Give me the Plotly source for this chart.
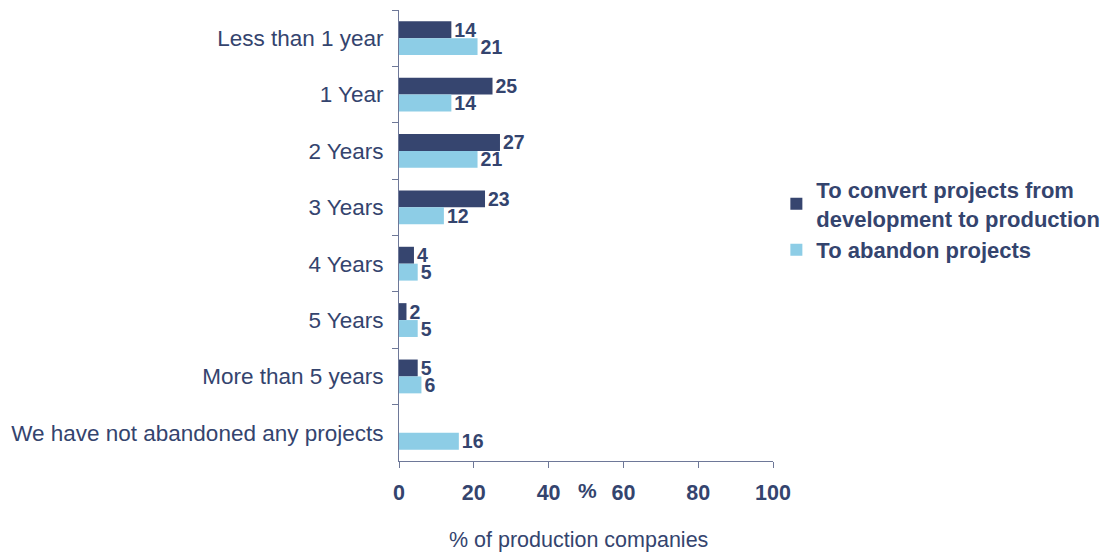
import plotly.graph_objects as go

categories = ["Less than 1 year", "1 Year", "2 Years", "3 Years", "4 Years",
              "5 Years", "More than 5 years", "We have not abandoned any projects"]
convert_vals = [14, 25, 27, 23, 4, 2, 5, None]
abandon_vals = [21, 14, 21, 12, 5, 5, 6, 16]
series_names = ["To convert projects from<br>development to production", "To abandon projects"]
x_ticks = [0, 20, 40, 60, 80, 100]

NAVY = "#34446E"
DARK = "#36456F"
LIGHT = "#8DCDE6"
AXIS = "#6E7898"
FONT = "Liberation Sans, Arial, sans-serif"

fig = go.Figure()
for name, vals, col in [(series_names[0], convert_vals, DARK), (series_names[1], abandon_vals, LIGHT)]:
    fig.add_trace(go.Bar(
        y=categories, x=vals, name=name, orientation="h",
        marker=dict(color=col, line=dict(width=0)),
        text=[("" if v is None else str(v)) for v in vals],
        textposition="outside", cliponaxis=False, constraintext="none",
        textfont=dict(family=FONT, size=19.5, color=NAVY, weight="bold"),
    ))

# page body has an 8px margin: compensate so the chart lands at the same place
fig.update_layout(
    barmode="group", bargap=0.4, bargroupgap=0,
    width=1101, height=546,
    margin=dict(l=391, r=336, t=2, b=93, autoexpand=False),
    plot_bgcolor="white", paper_bgcolor="white",
    font=dict(family=FONT, color=NAVY),
    showlegend=True,
    legend=dict(x=1.009, y=0.648, xanchor="left", yanchor="top",
                font=dict(family=FONT, size=22, color=NAVY, weight="bold"),
                traceorder="normal", itemsizing="constant", tracegroupgap=4),
)
fig.update_yaxes(
    autorange="reversed", type="category", automargin=False,
    showline=True, linecolor=AXIS, linewidth=1,
    ticks="outside", ticklen=6, tickcolor=AXIS, tickson="boundaries",
    tickfont=dict(family=FONT, size=22.5, color=NAVY),
    showgrid=False, ticklabelstandoff=10,
)
fig.update_xaxes(
    range=[0, 100], tickvals=x_ticks, automargin=False,
    showline=True, linecolor=AXIS, linewidth=1,
    ticks="outside", ticklen=6, tickcolor=AXIS,
    tickfont=dict(family=FONT, size=21.5, color=NAVY, weight="bold"),
    showgrid=False, zeroline=False, ticklabelstandoff=6,
)
fig.add_annotation(x=50.5, y=0, xref="x", yref="paper", yshift=-29, text="<b>%</b>",
                   showarrow=False, font=dict(family=FONT, size=21, color=NAVY), yanchor="middle")
fig.add_annotation(x=0.481, y=0, xref="paper", yref="paper", yshift=-79,
                   text="% of production companies",
                   showarrow=False, font=dict(family=FONT, size=21.5, color=NAVY), yanchor="middle")

fig.write_html("out.html")
